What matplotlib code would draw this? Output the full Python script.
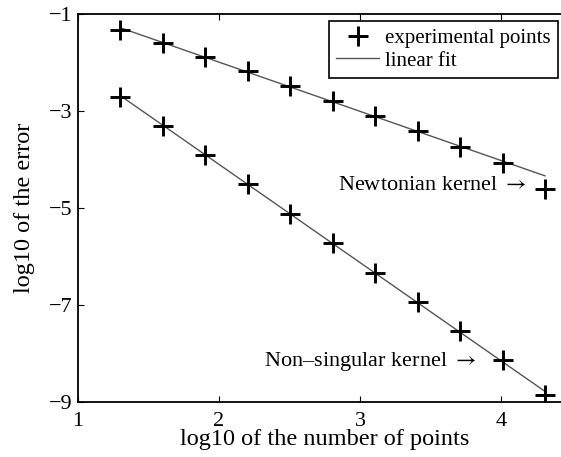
import numpy as np
import matplotlib
matplotlib.use("Agg")
from matplotlib import pyplot as plt

plt.rcParams['font.family'] = ['Liberation Serif', 'DejaVu Serif']
plt.rcParams['mathtext.fontset'] = 'stix'

# log10 of number of points
log_n = [1.301, 1.602, 1.903, 2.204, 2.505, 2.806, 3.107, 3.408, 3.709, 4.010, 4.311]
# log10 of the error
err_newton = [-1.33, -1.61, -1.89, -2.18, -2.49, -2.79, -3.10, -3.41, -3.74, -4.08, -4.60]
err_nonsing = [-2.71, -3.31, -3.91, -4.51, -5.12, -5.72, -6.33, -6.93, -7.53, -8.14, -8.86]

x = np.array(log_n)
# Newtonian fit done without the last point
p_newton = np.polyfit(x[:-1], err_newton[:-1], 1)
p_nonsing = np.polyfit(x, err_nonsing, 1)

fig = plt.figure(figsize=(5.61, 4.57), dpi=100)
ax = fig.add_axes([0.139, 0.120, 0.88, 0.850])

ax.plot(x, np.polyval(p_newton, x), color='#555555', lw=1.0, label='linear fit')
ax.plot(x, np.polyval(p_nonsing, x), color='#555555', lw=1.0)
ax.plot(x, err_newton, '+', color='k', ms=15, mew=2.1, label='experimental points')
ax.plot(x, err_nonsing, '+', color='k', ms=15, mew=2.1)

ax.text(4.18, -4.53, 'Newtonian kernel $\\rightarrow$', ha='right', va='center', fontsize=16)
ax.text(3.82, -8.17, 'Non\u2013singular kernel $\\rightarrow$', ha='right', va='center', fontsize=16)

ax.set_xlim(1, 4.5)
ax.set_ylim(-9, -1)
ax.set_xticks([1, 2, 3, 4])
ax.set_yticks([-9, -7, -5, -3, -1])
ax.set_yticklabels(['\u22129', '\u22127', '\u22125', '\u22123', '\u22121'])
ax.tick_params(direction='in', top=True, right=True, labelsize=16, length=4, width=0.8)
ax.tick_params(axis='x', pad=7)
ax.tick_params(axis='y', pad=4)
for s in ax.spines.values():
    s.set_linewidth(1.3)

ax.set_xlabel('log10 of the number of points', fontsize=17.5, labelpad=-1)
ax.set_ylabel('log10 of the error', fontsize=17.5, labelpad=10)

h, l = ax.get_legend_handles_labels()
leg = ax.legend(h[::-1], l[::-1], loc='upper left', bbox_to_anchor=(0.508, 0.981),
                fontsize=15, fancybox=False, framealpha=1, edgecolor='k',
                borderpad=0.35, handlelength=2.07, handletextpad=0.3, labelspacing=0.15,
                borderaxespad=0)
leg.get_frame().set_linewidth(1.2)

fig.savefig('out.png', dpi=100)
